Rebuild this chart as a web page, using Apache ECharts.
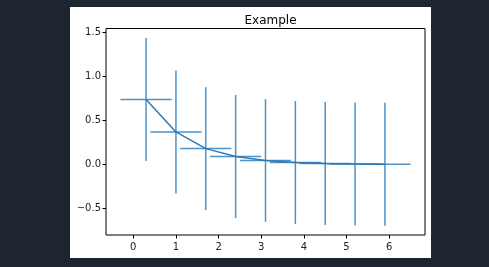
<!DOCTYPE html>
<html>
<head>
<meta charset="utf-8">
<script src="https://cdn.jsdelivr.net/npm/echarts@6/dist/echarts.min.js"></script>
<style>
html,body{margin:0;padding:0;background:#1c2530;width:489px;height:267px;overflow:hidden;}
#panel{position:absolute;left:70px;top:7px;width:361px;height:251px;background:#ffffff;}
#chart{position:absolute;left:0;top:0;width:489px;height:267px;}
</style>
</head>
<body>
<div id="panel"></div>
<div id="chart"></div>
<script>
// Data
var xValues = [0.3, 1.0, 1.7, 2.4, 3.1, 3.8, 4.5, 5.2, 5.9];
var yValues = [0.74, 0.37, 0.18, 0.09, 0.045, 0.022, 0.011, 0.0055, 0.0027];
var xErr = [0.6, 0.6, 0.6, 0.6, 0.6, 0.6, 0.6, 0.6, 0.6];
var yErr = [0.7, 0.7, 0.7, 0.7, 0.7, 0.7, 0.7, 0.7, 0.7];
var xTicks = [0, 1, 2, 3, 4, 5, 6];
var yTicks = [-0.5, 0.0, 0.5, 1.0, 1.5];
var titleText = 'Example';

var color = '#3a86c2';
var lineData = xValues.map(function (x, i) { return [x, yValues[i]]; });
var errData = xValues.map(function (x, i) { return [x, yValues[i], xErr[i], yErr[i]]; });

var chart = echarts.init(document.getElementById('chart'), null, {renderer: 'canvas'});
chart.setOption({
  animation: false,
  backgroundColor: 'transparent',
  title: {
    text: titleText, left: 265.5, top: 10, textAlign: 'center',
    textStyle: {fontFamily: 'DejaVu Sans', fontSize: 12, fontWeight: 'normal', color: '#000'}
  },
  grid: {left: 106, top: 28.5, width: 319, height: 206.5, show: true, borderColor: '#000', borderWidth: 1, backgroundColor: 'transparent', containLabel: false},
  xAxis: {
    type: 'value', min: -0.64, max: 6.84, position: 'bottom',
    splitLine: {show: false},
    axisLine: {show: false, onZero: false},
    axisTick: {show: true, length: 3.5, lineStyle: {color: '#000', width: 1}, customValues: xTicks},
    axisLabel: {show: true, customValues: xTicks, margin: 7, fontFamily: 'DejaVu Sans', fontSize: 10, color: '#222',
      formatter: function (v) { return String(v); }}
  },
  yAxis: {
    type: 'value', min: -0.804, max: 1.548, position: 'left',
    splitLine: {show: false},
    axisLine: {show: false, onZero: false},
    axisTick: {show: true, length: 3.5, lineStyle: {color: '#000', width: 1}, customValues: yTicks},
    axisLabel: {show: true, customValues: yTicks, margin: 5, fontFamily: 'DejaVu Sans', fontSize: 10, color: '#222',
      formatter: function (v) { var s = v.toFixed(1); return s.replace('-', '\u2212'); }}
  },
  series: [
    {
      type: 'custom',
      data: errData,
      z: 2,
      renderItem: function (params, api) {
        var x = api.value(0), y = api.value(1), ex = api.value(2), ey = api.value(3);
        var l = api.coord([x - ex, y]), r = api.coord([x + ex, y]);
        var t = api.coord([x, y + ey]), b = api.coord([x, y - ey]);
        var st = {stroke: color, lineWidth: 1.5, opacity: 0.9};
        return {type: 'group', children: [
          {type: 'line', shape: {x1: l[0], y1: l[1], x2: r[0], y2: r[1]}, style: st},
          {type: 'line', shape: {x1: t[0], y1: t[1], x2: b[0], y2: b[1]}, style: st}
        ]};
      }
    },
    {
      type: 'line',
      data: lineData,
      showSymbol: false,
      z: 3,
      lineStyle: {color: '#2f78b5', width: 1.5},
      itemStyle: {color: '#2f78b5'}
    }
  ]
});
</script>
</body>
</html>
